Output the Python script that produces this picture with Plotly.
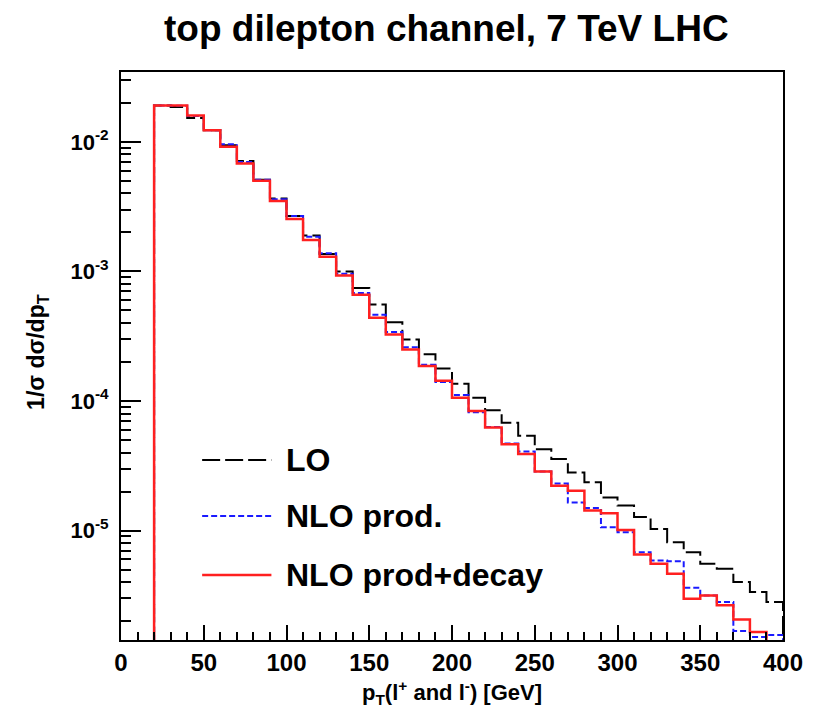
import numpy as np
import plotly.graph_objects as go

# Bin lower edges (GeV), 10 GeV wide, 0..390
bin_lo = list(range(0, 400, 10))

# Normalised distributions 1/sigma dsigma/dpT per bin (0 = empty bin)
lo = [0, 0,
      0.0191, 0.0186, 0.0153, 0.0123, 0.0094, 0.0071, 0.0051, 0.00366,
      0.00268, 0.00189, 0.00136, 0.00100, 0.000745, 0.000555, 0.000406, 0.000298,
      0.000229, 0.000178, 0.000136, 0.000106, 8.47e-5, 6.8e-5, 5.38e-5, 4.25e-5,
      3.56e-5, 2.81e-5, 2.36e-5, 1.8e-5, 1.56e-5, 1.27e-5, 1.03e-5, 8.13e-6,
      6.8e-6, 5.55e-6, 5.07e-6, 4.0e-6, 3.36e-6, 2.81e-6]
nlo_prod = [0, 0,
            0.0191, 0.0190, 0.0158, 0.0123, 0.0096, 0.0070, 0.0051, 0.0036,
            0.00268, 0.00185, 0.00138, 0.00096, 0.00068, 0.000464, 0.000341, 0.000260,
            0.000190, 0.000140, 0.000111, 8.2e-5, 6.3e-5, 4.7e-5, 4.07e-5, 2.86e-5,
            2.31e-5, 1.65e-5, 1.49e-5, 1.06e-5, 9.7e-6, 6.8e-6, 5.88e-6, 5.8e-6,
            3.62e-6, 3.16e-6, 2.81e-6, 1.68e-6, 1.51e-6, 1.56e-6]
nlo_decay = [0, 0,
             0.0191, 0.0191, 0.0160, 0.0123, 0.00916, 0.00681, 0.00501, 0.00350,
             0.00254, 0.00175, 0.00130, 0.00093, 0.00066, 0.000438, 0.000326, 0.000250,
             0.000186, 0.000143, 0.000106, 8.37e-5, 6.24e-5, 4.64e-5, 3.89e-5, 2.86e-5,
             2.22e-5, 2.03e-5, 1.43e-5, 1.36e-5, 1.01e-5, 6.53e-6, 5.54e-6, 4.64e-6,
             2.98e-6, 3.16e-6, 2.65e-6, 2.06e-6, 1.65e-6, 0]

x_max = 400
y_min, y_max = 1.43e-6, 0.0346
floor = 1e-9  # empty bins are drawn below the visible range, like ROOT does


def step_xy(vals):
    xs = bin_lo + [x_max]
    ys = [v if v > 0 else floor for v in vals]
    ys = ys + [floor]
    return xs, ys


FONT = "Liberation Sans, Arial, Helvetica, sans-serif"

series = [
    ("LO", lo, "black", 2, "18px,5px"),
    ("NLO prod.", nlo_prod, "#1a1aff", 2, "6px,3px"),
    ("NLO prod+decay", nlo_decay, "#ff2020", 2.5, "solid"),
]

fig = go.Figure()
for name, vals, col, w, dash in series:
    xs, ys = step_xy(vals)
    fig.add_trace(go.Scatter(
        x=xs, y=ys, mode="lines", name=name,
        line=dict(color=col, width=w, dash=dash, shape="hv"),
        showlegend=False,
    ))

# Decade ticks with ROOT-style labels
dec_vals = [1e-5, 1e-4, 1e-3, 1e-2]
dec_text = ["10<sup>-5</sup>", "10<sup>-4</sup>", "10<sup>-3</sup>", "10<sup>-2</sup>"]
minor_vals = [m * 10.0 ** e for e in range(-6, -1) for m in range(2, 10)]
minor_vals = [v for v in minor_vals if y_min < v < y_max]

fig.update_xaxes(
    range=[0, x_max], showgrid=False, zeroline=False,
    showline=True, linecolor="black", linewidth=2, mirror=True,
    ticks="inside", ticklen=15, tickwidth=1.5, tickcolor="black",
    tickvals=list(range(0, 401, 50)),
    ticktext=[str(v) for v in range(0, 401, 50)],
    tickfont=dict(family=FONT, size=24, color="black", weight="bold"),
    minor=dict(tickmode="array", tickvals=[v for v in range(10, 400, 10) if v % 50],
               ticks="inside", ticklen=8, tickwidth=1.5, tickcolor="black"),
    ticklabelstandoff=0,
)
fig.update_yaxes(
    type="log", range=[np.log10(y_min), np.log10(y_max)],
    showgrid=False, zeroline=False,
    showline=True, linecolor="black", linewidth=2, mirror=True,
    ticks="inside", ticklen=20, tickwidth=1.5, tickcolor="black",
    tickmode="array", tickvals=dec_vals, ticktext=dec_text,
    tickfont=dict(family=FONT, size=22, color="black", weight="bold"),
    minor=dict(tickmode="array", tickvals=minor_vals,
               ticks="inside", ticklen=10, tickwidth=1.5, tickcolor="black"),
    ticklabelstandoff=6,
)

L, R, T, B = 121, 25, 72, 67
W, H = 815, 707
pw, ph = W - L - R, H - T - B


def px(xp):
    return (xp - L) / pw


def py(yp):
    return (H - B - yp) / ph


annotations = [
    dict(text="<b>top dilepton channel, 7 TeV LHC</b>", xref="paper", yref="paper",
         x=px(450), y=py(29), xanchor="center", yanchor="middle", showarrow=False,
         font=dict(family=FONT, size=37, color="black")),
    dict(text="<b>1/σ dσ/dp<sub>T</sub></b>", xref="paper", yref="paper",
         x=px(36), y=py(352), xanchor="center", yanchor="middle", showarrow=False,
         textangle=-90, font=dict(family=FONT, size=23, color="black")),
    dict(text="<b>p<sub>T</sub>(l<sup>+</sup> and l<sup>-</sup>) [GeV]</b>", xref="paper", yref="paper",
         x=px(456), y=py(692), xanchor="center", yanchor="middle", showarrow=False,
         font=dict(family=FONT, size=22, color="black")),
]

shapes = []
leg_rows = [460, 516, 575]
for (name, vals, col, w, dash), yrow in zip(series, leg_rows):
    shapes.append(dict(type="line", xref="paper", yref="paper",
                       x0=px(203), x1=px(273), y0=py(yrow), y1=py(yrow),
                       line=dict(color=col, width=w, dash=dash)))
    annotations.append(dict(text=f"<b>{name}</b>", xref="paper", yref="paper",
                            x=px(286), y=py(yrow), xanchor="left", yanchor="middle",
                            showarrow=False, font=dict(family=FONT, size=32, color="black")))

fig.update_layout(
    width=W, height=H,
    margin=dict(l=L, r=R, t=T, b=B),
    paper_bgcolor="white", plot_bgcolor="white",
    annotations=annotations, shapes=shapes,
    showlegend=False,
)

fig.write_html("out.html")
